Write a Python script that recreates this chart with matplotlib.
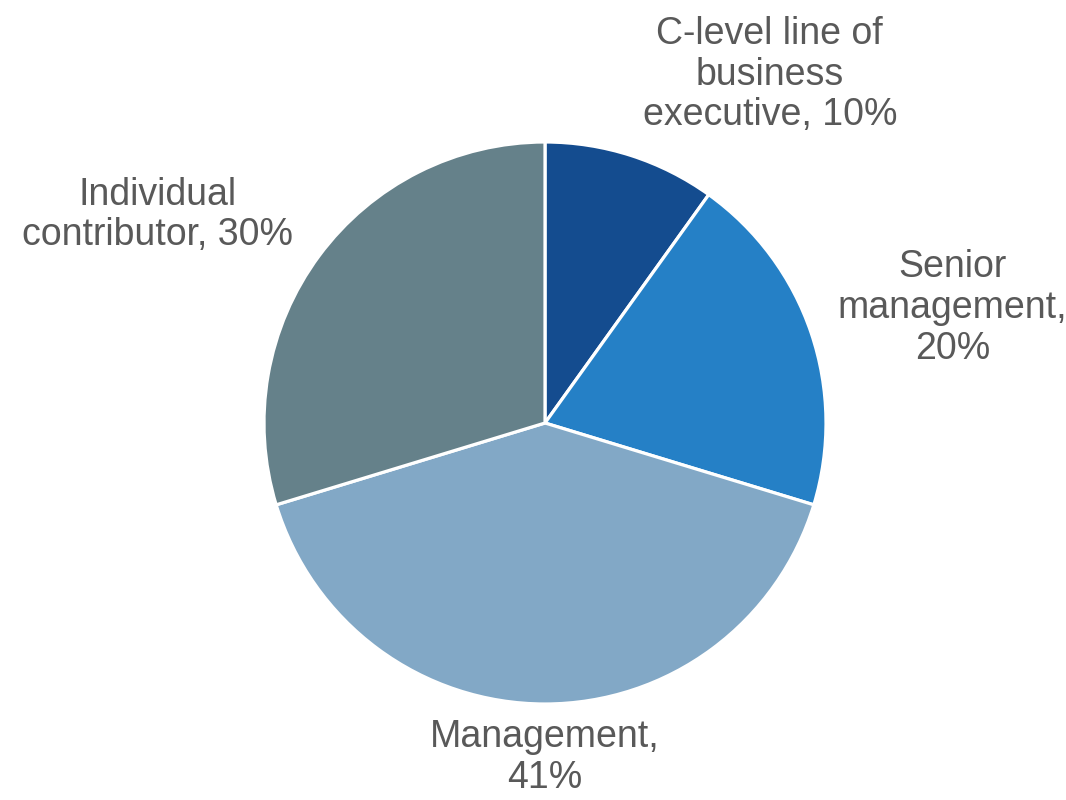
import matplotlib
matplotlib.use("Agg")
import matplotlib.pyplot as plt

plt.rcParams['font.family'] = ['Liberation Sans', 'DejaVu Sans']

# slice data, clockwise from 12 o'clock
categories = ["C-level line of\nbusiness\nexecutive", "Senior\nmanagement", "Management", "Individual\ncontributor"]
shares = [10, 20, 41, 30]
colors = ["#144C8F", "#2580C6", "#82A8C6", "#65818A"]

# label anchor points (data units, pie radius = 1)
label_pos = [(0.80, 1.24), (1.45, 0.41), (0.0, -1.19), (-1.38, 0.74)]

fig = plt.figure(figsize=(10.66, 8), dpi=100)
ax = fig.add_axes([0, 0, 1, 1])

ax.pie(shares, colors=colors, startangle=90, counterclock=False,
       wedgeprops=dict(edgecolor="white", linewidth=2.3))

texts = [
    "C-level line of\nbusiness\nexecutive, %d%%" % shares[0],
    "Senior\nmanagement,\n%d%%" % shares[1],
    "Management,\n%d%%" % shares[2],
    "Individual\ncontributor, %d%%" % shares[3],
]
for t, (x, y) in zip(texts, label_pos):
    ax.text(x, y, t, ha="center", va="center", fontsize=27, color="#595959",
            linespacing=1.17)

r_px = 281
ax.set_xlim(-545 / r_px, (1066 - 545) / r_px)
ax.set_ylim(-(800 - 423) / r_px, 423 / r_px)
ax.set_aspect("equal")
ax.axis("off")

fig.savefig("out.png", dpi=100)
